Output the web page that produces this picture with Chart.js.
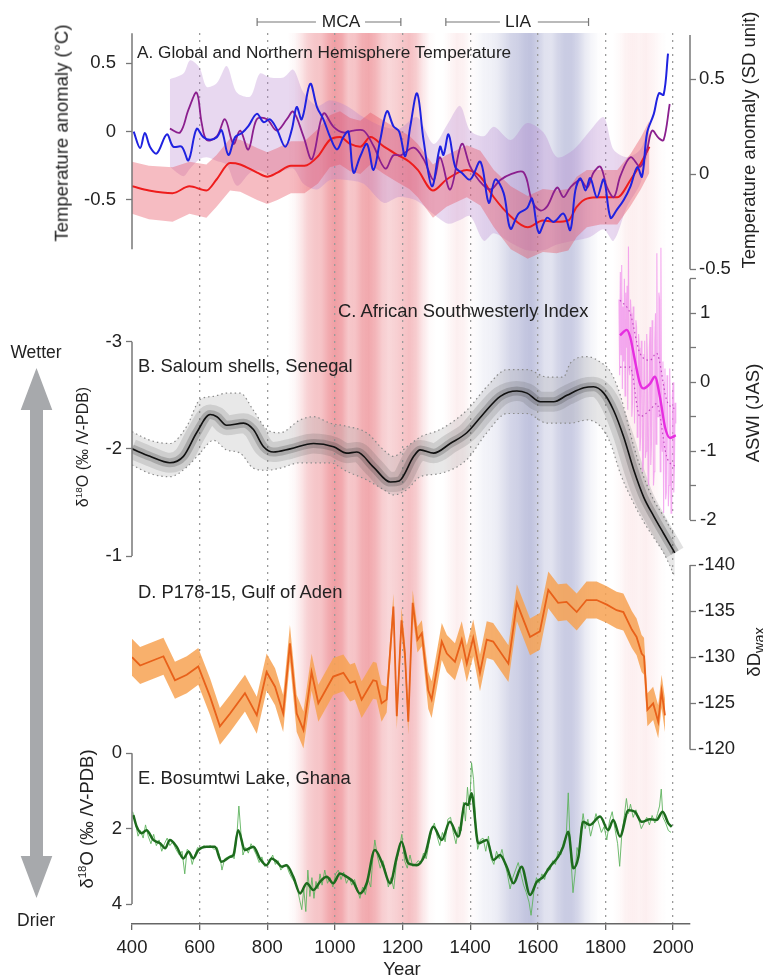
<!DOCTYPE html>
<html>
<head>
<meta charset="utf-8">
<script src="https://cdn.jsdelivr.net/npm/chart.js"></script>
<style>
  html, body { margin: 0; padding: 0; background: #fff; }
  #wrap { position: relative; width: 763px; height: 978px; overflow: hidden;
          font-family: "Liberation Sans", Arial, Helvetica, sans-serif; color: #222; }
  #fig { position: absolute; left: 0; top: 0; }
  #arrow { position: absolute; left: 0; top: 0; }
  .t { position: absolute; white-space: nowrap; line-height: 1; transform: translateY(-50%); }
  .c { position: absolute; white-space: nowrap; line-height: 1; transform: translate(-50%, -50%); }
  .v { position: absolute; white-space: nowrap; line-height: 1; transform: translate(-50%, -50%) rotate(-90deg); }
  sup { font-size: 62%; line-height: 0; }
  sub { font-size: 78%; line-height: 0; }
</style>
</head>
<body>
<div id="wrap">
  <svg id="arrow" width="763" height="978">
    <polygon fill="#a7a9ac" points="36.5,368 52.3,410 43,410 43,856 52.3,856 36.5,898 20.7,856 30,856 30,410 20.7,410"/>
  </svg>
  <canvas id="fig" width="763" height="978"></canvas>

  <div class="c" style="left:341px;top:22px;font-size:17.3px">MCA</div>
  <div class="c" style="left:518px;top:22px;font-size:17.3px">LIA</div>

  <div class="t" style="left:137px;top:53px;font-size:17.2px">A. Global and Northern Hemisphere Temperature</div>
  <div class="t" style="left:338px;top:311px;font-size:18.4px">C. African Southwesterly Index</div>
  <div class="t" style="left:138px;top:366px;font-size:18.4px">B. Saloum shells, Senegal</div>
  <div class="t" style="left:138px;top:592px;font-size:18.4px">D. P178-15, Gulf of Aden</div>
  <div class="t" style="left:138px;top:778px;font-size:18.4px">E. Bosumtwi Lake, Ghana</div>

  <div class="v" style="left:62px;top:133px;font-size:18.5px">Temperature anomaly (°C)</div>
  <div class="v" style="left:749px;top:140px;font-size:18.5px">Temperature anomaly (SD unit)</div>
  <div class="v" style="left:753px;top:413px;font-size:18.5px">ASWI (JAS)</div>
  <div class="v" style="left:83px;top:447px;font-size:16px">δ<sup>18</sup>O (‰ /V-PDB)</div>
  <div class="v" style="left:754px;top:652px;font-size:18.5px">δD<sub>wax</sub></div>
  <div class="v" style="left:87px;top:819px;font-size:18.5px">δ<sup>18</sup>O (‰ /V-PDB)</div>

  <div class="c" style="left:36px;top:353px;font-size:17.5px">Wetter</div>
  <div class="c" style="left:36px;top:921px;font-size:17.5px">Drier</div>
  <div class="c" style="left:402px;top:969px;font-size:18.5px">Year</div>
</div>

<script>
// ---- data ----
var yearTicks = [400, 600, 800, 1000, 1200, 1400, 1600, 1800, 2000];

// A. temperature (red = NH reconstruction with band, blue = global, purple = SD units)
var redYears = [400, 450, 520, 570, 620, 650, 690, 720, 770, 800,
                830, 870, 910, 950, 985, 1015, 1045, 1075, 1105, 1145,
                1185, 1220, 1245, 1290, 1330, 1390, 1430, 1470, 1520, 1570,
                1615, 1655, 1690, 1715, 1745, 1785, 1835, 1875, 1905, 1930];
var redVals = [-0.40, -0.43, -0.45, -0.40, -0.43, -0.35, -0.23, -0.24, -0.30, -0.33,
               -0.30, -0.25, -0.25, -0.18, -0.06, -0.04, -0.09, -0.11, -0.04, -0.11,
               -0.17, -0.22, -0.28, -0.43, -0.35, -0.28, -0.33, -0.48, -0.62, -0.70,
               -0.65, -0.66, -0.65, -0.55, -0.49, -0.48, -0.48, -0.35, -0.23, -0.11];
var redHi = [-0.22, -0.25, -0.26, -0.22, -0.24, -0.17, -0.05, -0.06, -0.12, -0.15,
             -0.12, -0.07, -0.07, 0.02, 0.12, 0.15, 0.10, 0.08, 0.14, 0.08,
             0.02, -0.03, -0.09, -0.24, -0.17, -0.10, -0.14, -0.28, -0.40, -0.47,
             -0.42, -0.43, -0.42, -0.33, -0.28, -0.28, -0.28, -0.16, -0.04, 0.08];
var redLo = [-0.60, -0.64, -0.66, -0.60, -0.63, -0.55, -0.43, -0.44, -0.50, -0.53,
             -0.50, -0.45, -0.45, -0.38, -0.26, -0.24, -0.29, -0.31, -0.24, -0.31,
             -0.37, -0.42, -0.48, -0.63, -0.55, -0.48, -0.54, -0.70, -0.86, -0.93,
             -0.88, -0.89, -0.87, -0.77, -0.70, -0.68, -0.68, -0.54, -0.42, -0.30];

var blueYears = [405, 424, 438, 453, 473, 503, 522, 547, 567, 591,
                 611, 631, 651, 665, 685, 705, 725, 744, 769, 789,
                 808, 828, 853, 873, 887, 902, 927, 947, 966, 986,
                 1006, 1025, 1040, 1055, 1075, 1095, 1114, 1134, 1154, 1173,
                 1190, 1208, 1223, 1243, 1262, 1287, 1311, 1321, 1336, 1356,
                 1375, 1400, 1430, 1455, 1474, 1499, 1519, 1543, 1568, 1583,
                 1603, 1627, 1647, 1676, 1696, 1711, 1726, 1741, 1755, 1775,
                 1795, 1815, 1834, 1854, 1874, 1894, 1908, 1923, 1943, 1958,
                 1972, 1985];
var blueVals = [0.00, -0.12, -0.01, -0.11, -0.16, -0.02, -0.11, -0.11, -0.21, 0.02,
                -0.04, -0.06, -0.04, 0.01, -0.17, -0.04, -0.01, 0.04, 0.13, 0.07,
                0.09, 0.02, -0.11, 0.02, 0.18, 0.09, 0.35, 0.18, 0.09, -0.04,
                -0.13, -0.04, 0.00, -0.30, -0.18, -0.09, -0.28, -0.06, 0.15, 0.04,
                0.00, -0.18, 0.04, 0.28, -0.06, -0.40, -0.11, -0.17, -0.02, -0.26,
                -0.30, -0.35, -0.22, -0.52, -0.35, -0.45, -0.71, -0.60, -0.56, -0.49,
                -0.74, -0.63, -0.66, -0.60, -0.72, -0.43, -0.34, -0.43, -0.34, -0.48,
                -0.35, -0.63, -0.57, -0.50, -0.40, -0.26, -0.33, -0.01, 0.13, 0.28,
                0.27, 0.57];

var purpleYears = [512, 542, 567, 591, 606, 621, 651, 675, 700, 720,
                   744, 769, 799, 828, 858, 877, 907, 932, 966, 996,
                   1025, 1055, 1085, 1114, 1149, 1173, 1195, 1233, 1262, 1292,
                   1311, 1341, 1375, 1400, 1425, 1459, 1489, 1519, 1558, 1583,
                   1607, 1627, 1657, 1676, 1696, 1726, 1746, 1765, 1785, 1805,
                   1825, 1844, 1874, 1903, 1923, 1938, 1958, 1972, 1990];
var purpleVals = [0.24, 0.22, 0.34, 0.43, 0.27, 0.18, 0.20, 0.29, 0.16, 0.23,
                  0.13, 0.29, 0.29, 0.23, 0.29, 0.33, 0.20, 0.08, 0.32, 0.25,
                  0.22, 0.23, 0.23, 0.15, 0.03, 0.10, 0.10, 0.14, 0.08, -0.03,
                  0.09, -0.08, 0.16, 0.04, -0.03, -0.08, -0.03, 0.00, 0.01, -0.14,
                  -0.19, -0.17, -0.07, -0.12, -0.07, -0.03, -0.07, 0.01, 0.04, -0.07,
                  -0.12, -0.01, 0.09, 0.04, 0.13, 0.23, 0.19, 0.18, 0.37];
var purpleBandYears = [512, 552, 572, 600, 621, 651, 680, 710, 750, 778,
                       808, 848, 877, 907, 947, 986, 1035, 1085, 1144, 1190,
                       1243, 1292, 1335, 1370, 1400, 1440, 1470, 1520, 1568, 1617,
                       1657, 1706, 1755, 1795, 1824, 1864, 1903, 1925];
var purpleHi = [0.50, 0.53, 0.60, 0.56, 0.46, 0.48, 0.57, 0.43, 0.41, 0.53,
                0.51, 0.51, 0.55, 0.43, 0.36, 0.39, 0.36, 0.30, 0.25, 0.24,
                0.30, 0.16, 0.27, 0.36, 0.23, 0.20, 0.25, 0.18, 0.27, 0.22,
                0.09, 0.13, 0.23, 0.30, 0.13, 0.09, 0.13, 0.24];
var purpleLo = [0.04, -0.01, 0.03, 0.08, 0.09, 0.07, 0.05, -0.06, 0.01, 0.02,
                0.00, 0.02, 0.03, -0.05, -0.08, -0.03, -0.03, -0.05, -0.15, -0.12,
                -0.14, -0.21, -0.26, -0.24, -0.22, -0.35, -0.31, -0.36, -0.40, -0.40,
                -0.37, -0.35, -0.33, -0.29, -0.35, -0.17, -0.05, 0.10];

// B. Saloum shells d18O
var saloumYears = [400, 453, 512, 552, 591, 631, 651, 680, 730, 759,
                   789, 818, 868, 937, 996, 1035, 1065, 1114, 1164, 1190,
                   1233, 1252, 1292, 1341, 1390, 1440, 1489, 1538, 1568, 1607,
                   1647, 1686, 1736, 1765, 1795, 1824, 1854, 1884, 1913, 1943,
                   1972, 2005];
var saloumVals = [-2.00, -1.93, -1.87, -1.93, -2.15, -2.32, -2.30, -2.22, -2.24, -2.18,
                  -2.02, -1.97, -2.00, -2.05, -2.02, -1.96, -1.97, -1.83, -1.69, -1.70,
                  -1.93, -1.99, -1.96, -2.05, -2.15, -2.33, -2.49, -2.54, -2.52, -2.44,
                  -2.44, -2.50, -2.57, -2.58, -2.52, -2.36, -2.11, -1.80, -1.55, -1.37,
                  -1.21, -1.03];
var saloumBandYears = [400, 453, 512, 562, 601, 641, 680, 720, 759, 799,
                       838, 897, 937, 986, 1035, 1094, 1144, 1173, 1213, 1252,
                       1311, 1390, 1449, 1509, 1568, 1627, 1676, 1696, 1746, 1785,
                       1815, 1844, 1884, 1913, 1943, 1972, 2005];
var saloumHi = [-2.16, -2.08, -2.05, -2.21, -2.46, -2.49, -2.52, -2.52, -2.36, -2.18,
                -2.15, -2.27, -2.30, -2.24, -2.21, -2.15, -1.99, -1.93, -2.02, -2.11,
                -2.18, -2.36, -2.58, -2.74, -2.74, -2.67, -2.67, -2.80, -2.86, -2.81,
                -2.72, -2.50, -2.02, -1.74, -1.52, -1.37, -1.18];
var saloumLo = [-1.85, -1.77, -1.74, -1.83, -1.96, -2.08, -1.99, -1.96, -1.82, -1.80,
                -1.82, -1.87, -1.87, -1.87, -1.79, -1.71, -1.62, -1.57, -1.62, -1.74,
                -1.77, -1.90, -2.15, -2.33, -2.33, -2.24, -2.24, -2.24, -2.27, -2.21,
                -2.05, -1.77, -1.49, -1.32, -1.17, -1.03, -0.81];

// C. African Southwesterly Index
var aswiYears = [1843, 1863, 1873, 1887, 1902, 1912, 1932, 1946, 1961, 1976, 1991, 2008];
var aswiVals = [0.68, 0.76, 0.66, 0.32, -0.02, -0.09, -0.02, 0.08, -0.21, -0.65, -0.81, -0.77];
var aswiBandYears = [1843, 1873, 1902, 1932, 1951, 1981, 2008];
var aswiHi = [1.19, 1.00, 0.42, 0.32, 0.42, -0.26, -0.40];
var aswiLo = [0.22, 0.22, -0.50, -0.40, -0.31, -1.08, -1.23];
var aswiAnnualYears = [1840, 1842, 1844, 1846, 1848, 1850, 1852, 1854, 1856, 1858,
                       1860, 1862, 1864, 1866, 1868, 1870, 1872, 1874, 1876, 1878,
                       1880, 1882, 1884, 1886, 1888, 1890, 1892, 1894, 1896, 1898,
                       1900, 1902, 1904, 1906, 1908, 1910, 1912, 1914, 1916, 1918,
                       1920, 1922, 1924, 1926, 1928, 1930, 1932, 1934, 1936, 1938,
                       1940, 1942, 1944, 1946, 1948, 1950, 1952, 1954, 1956, 1958,
                       1960, 1962, 1964, 1966, 1968, 1970, 1972, 1974, 1976, 1978,
                       1980, 1982, 1984, 1986, 1988, 1990, 1992, 1994, 1996, 1998,
                       2000, 2002, 2004, 2006, 2008];
var aswiAnnual = [1.2, 0.1, 1.6, 0.4, 1.7, -0.1, 1.1, 0.3, 1.5, -0.2,
                  1.3, 0.5, 1.4, -0.4, 1.97, 0.2, 0.1, 1.2, 1.0, -0.5,
                  -0.3, 1.1, 0.9, -0.6, 0.2, 0.9, 0.8, -0.8, -0.6, 0.7,
                  0.5, -1.0, -0.8, 0.6, 0.3, -1.3, -1.2, 0.4, 0.6, -1.1,
                  -1.0, 0.7, 0.4, -1.4, -1.5, 0.5, 0.8, -1.2, -0.9, 0.9,
                  0.5, -1.5, -1.3, 0.6, 1.0, -0.9, 1.87, -0.5, -0.5, 1.3,
                  1.2, -1.3, 1.95, -0.8, -1.0, 0.3, -1.9, 0.0, 0.2, -1.7,
                  -1.6, 0.1, -0.3, -1.8, -1.5, 0.2, -0.6, -1.9, -1.8, -0.2,
                  0.0, -1.6, -1.2, -0.3, -0.6];

// D. P178-15 dDwax
var dYears = [400, 424, 493, 527, 562, 596, 631, 660, 690, 734,
              769, 798, 823, 847, 867, 887, 907, 931, 951, 995,
              1025, 1045, 1059, 1079, 1113, 1123, 1138, 1153, 1173, 1183,
              1197, 1207, 1217, 1230, 1244, 1257, 1276, 1286, 1316, 1331,
              1355, 1375, 1390, 1409, 1429, 1449, 1468, 1513, 1538, 1577,
              1606, 1631, 1660, 1685, 1715, 1744, 1774, 1804, 1833, 1853,
              1878, 1892, 1907, 1914, 1924, 1941, 1956, 1966, 1976];
var dVals = [-130.0, -129.1, -130.1, -127.5, -128.1, -129.0, -125.7, -122.5, -123.9, -126.1,
             -123.7, -128.4, -126.8, -123.9, -131.5, -123.9, -122.1, -128.4, -125.0, -127.9,
             -128.3, -127.2, -127.4, -125.4, -127.5, -127.4, -125.0, -125.4, -135.5, -123.6,
             -134.0, -130.4, -123.0, -135.9, -131.9, -132.6, -126.4, -125.4, -131.7, -130.4,
             -129.5, -131.9, -129.3, -132.1, -128.3, -131.9, -131.7, -129.3, -135.9, -132.2,
             -132.8, -137.3, -135.9, -136.0, -134.9, -136.2, -136.2, -135.7, -135.1, -134.9,
             -133.0, -132.2, -130.4, -130.1, -124.3, -125.0, -123.0, -126.3, -123.7];
var dHi = [-132.0, -131.1, -132.1, -129.5, -130.1, -131.0, -127.7, -124.5, -125.9, -128.1,
           -125.7, -130.4, -128.8, -125.9, -133.5, -125.9, -124.1, -130.4, -127.0, -129.9,
           -130.3, -129.2, -129.4, -127.4, -129.5, -129.4, -127.0, -126.8, -136.9, -125.0,
           -135.4, -131.8, -124.4, -137.3, -133.3, -134.0, -128.4, -127.4, -133.7, -132.4,
           -131.5, -133.9, -131.3, -134.1, -130.3, -133.9, -133.7, -131.3, -137.9, -134.2,
           -134.8, -139.3, -137.9, -138.0, -136.9, -138.2, -138.2, -137.7, -137.1, -136.9,
           -135.0, -134.2, -132.4, -132.1, -126.1, -126.8, -124.8, -128.1, -125.5];
var dLo = [-128.0, -127.1, -128.1, -125.5, -126.1, -127.0, -123.7, -120.5, -121.9, -124.1,
           -121.7, -126.4, -124.8, -121.9, -129.5, -121.9, -120.1, -126.4, -123.0, -125.9,
           -126.3, -125.2, -125.4, -123.4, -125.5, -125.4, -123.0, -124.0, -134.1, -122.2,
           -132.6, -129.0, -121.6, -134.5, -130.5, -131.2, -124.4, -123.4, -129.7, -128.4,
           -127.5, -129.9, -127.3, -130.1, -126.3, -129.9, -129.7, -127.3, -133.9, -130.2,
           -130.8, -135.3, -133.9, -134.0, -132.9, -134.2, -134.2, -133.7, -133.1, -132.9,
           -131.0, -130.2, -128.4, -128.1, -122.5, -123.2, -121.2, -124.5, -121.9];

// E. Bosumtwi Lake d18O (smoothed + raw)
var bosYears = [404, 414, 429, 443, 463, 483, 498, 512, 532, 552,
                567, 581, 596, 621, 645, 665, 690, 700, 714, 734,
                759, 778, 798, 813, 828, 843, 857, 877, 897, 917,
                936, 956, 976, 995, 1015, 1035, 1054, 1074, 1094, 1118,
                1140, 1163, 1183, 1197, 1217, 1242, 1266, 1291, 1316, 1340,
                1365, 1385, 1394, 1404, 1424, 1449, 1469, 1488, 1508, 1528,
                1552, 1577, 1597, 1616, 1636, 1660, 1675, 1690, 1705, 1720,
                1734, 1754, 1784, 1808, 1823, 1843, 1868, 1887, 1907, 1932,
                1951, 1969, 1986, 1996];
var bosVals = [1.64, 1.95, 2.12, 2.04, 2.30, 2.39, 2.52, 2.30, 2.48, 2.79,
               2.61, 2.79, 2.57, 2.48, 2.48, 2.88, 2.75, 2.70, 2.04, 2.57,
               2.48, 2.79, 2.97, 2.79, 2.88, 3.01, 2.97, 3.28, 3.72, 3.45,
               3.63, 3.41, 3.28, 3.45, 3.19, 3.28, 3.41, 3.72, 3.45, 2.57,
               2.92, 3.45, 2.75, 2.35, 2.92, 2.97, 2.70, 1.95, 2.30, 1.82,
               2.21, 1.33, 1.37, 1.06, 2.39, 2.30, 2.83, 2.70, 3.01, 3.45,
               3.01, 3.76, 3.41, 3.28, 3.01, 2.75, 2.48, 2.08, 3.05, 2.75,
               1.82, 1.90, 1.68, 2.04, 1.77, 2.21, 1.51, 1.55, 1.82, 1.75,
               1.77, 1.55, 1.86, 1.95];
var bosRawYears = [402, 410, 418, 425, 433, 440, 448, 456, 464, 472,
                   480, 488, 496, 504, 512, 520, 530, 540, 548, 556,
                   563, 570, 578, 586, 594, 602, 612, 622, 632, 642,
                   652, 660, 666, 674, 684, 694, 702, 710, 716, 722,
                   728, 736, 744, 752, 760, 768, 776, 784, 792, 800,
                   808, 816, 824, 832, 840, 848, 856, 864, 872, 880,
                   888, 896, 902, 908, 914, 920, 926, 932, 938, 944,
                   950, 956, 962, 970, 978, 986, 994, 1002, 1010, 1018,
                   1026, 1034, 1042, 1050, 1058, 1066, 1074, 1082, 1090, 1098,
                   1106, 1112, 1118, 1126, 1134, 1142, 1150, 1158, 1166, 1174,
                   1182, 1190, 1198, 1206, 1214, 1222, 1230, 1238, 1246, 1254,
                   1262, 1270, 1278, 1286, 1294, 1302, 1310, 1318, 1326, 1334,
                   1342, 1350, 1358, 1366, 1374, 1380, 1386, 1392, 1398, 1404,
                   1410, 1416, 1422, 1430, 1438, 1446, 1454, 1462, 1470, 1478,
                   1486, 1494, 1502, 1510, 1518, 1526, 1534, 1542, 1550, 1558,
                   1566, 1574, 1580, 1588, 1596, 1604, 1612, 1620, 1628, 1636,
                   1644, 1652, 1660, 1668, 1676, 1684, 1690, 1696, 1704, 1710,
                   1716, 1722, 1728, 1734, 1740, 1748, 1756, 1764, 1772, 1780,
                   1788, 1796, 1804, 1812, 1820, 1828, 1836, 1842, 1848, 1856,
                   1862, 1868, 1874, 1882, 1890, 1898, 1906, 1914, 1922, 1930,
                   1938, 1946, 1954, 1960, 1965, 1970, 1978, 1986, 1994];
var bosRaw = [1.55, 1.85, 2.20, 2.05, 2.25, 1.90, 2.20, 2.40, 2.15, 2.45,
              2.30, 2.60, 2.40, 2.25, 2.45, 2.35, 2.55, 2.70, 2.60, 3.20,
              2.55, 2.60, 2.95, 2.70, 2.50, 2.55, 2.45, 2.50, 2.45, 2.55,
              2.50, 2.75, 3.10, 2.80, 2.75, 2.70, 2.80, 2.20, 1.40, 2.10,
              2.70, 2.50, 2.65, 2.40, 2.55, 2.70, 2.90, 2.75, 3.00, 2.95,
              2.85, 2.70, 2.95, 2.85, 3.10, 3.00, 2.95, 3.15, 3.30, 3.40,
              3.55, 3.90, 4.15, 3.60, 4.20, 3.10, 3.80, 3.30, 3.85, 3.40,
              3.60, 3.20, 3.50, 3.10, 3.45, 3.30, 3.55, 3.20, 3.10, 3.35,
              3.15, 3.45, 3.30, 3.50, 3.35, 3.60, 3.85, 3.55, 3.75, 3.35,
              3.55, 2.80, 2.30, 2.75, 3.05, 2.85, 3.15, 3.55, 3.30, 3.60,
              2.90, 2.55, 2.15, 2.85, 3.05, 2.70, 3.00, 2.95, 2.85, 2.90,
              2.65, 2.80, 2.40, 2.05, 1.85, 2.20, 2.45, 2.10, 2.35, 1.75,
              1.70, 2.10, 2.40, 1.95, 2.05, 1.30, 1.80, 0.90, 1.50, 0.25,
              0.70, 1.80, 2.55, 2.30, 2.25, 2.60, 2.20, 2.80, 2.95, 2.60,
              2.80, 2.55, 2.90, 3.20, 3.60, 3.30, 3.10, 2.90, 3.20, 3.50,
              3.70, 3.95, 4.30, 3.70, 3.30, 3.45, 3.20, 3.35, 3.05, 3.10,
              2.85, 2.95, 2.60, 2.70, 2.35, 2.20, 1.05, 2.50, 3.70, 3.20,
              2.50, 2.70, 2.00, 1.60, 2.00, 1.75, 2.20, 1.90, 1.60, 1.85,
              2.10, 1.95, 2.30, 1.80, 1.55, 2.00, 2.40, 3.00, 2.20, 1.65,
              1.20, 1.60, 1.35, 1.70, 1.50, 1.75, 2.00, 1.85, 1.70, 1.90,
              1.65, 1.85, 1.60, 1.40, 0.95, 1.70, 1.85, 2.05, 2.10];

// background shading: + warm (red), - cold (blue)
var shadeYears = [860, 880, 900, 920, 940, 960, 980, 1000, 1020, 1040,
                  1060, 1080, 1100, 1120, 1140, 1160, 1180, 1200, 1220, 1240,
                  1260, 1280, 1300, 1320, 1340, 1360, 1380, 1400, 1420, 1440,
                  1460, 1480, 1500, 1520, 1540, 1560, 1580, 1600, 1620, 1640,
                  1660, 1680, 1700, 1720, 1740, 1760, 1780, 1800, 1820, 1840,
                  1860, 1880, 1900, 1920, 1940, 1960, 1980];
var shadeLevel = [0, 0.05, 0.18, 0.35, 0.42, 0.45, 0.62, 0.72, 0.65, 0.42,
                  0.45, 0.60, 0.65, 0.55, 0.38, 0.30, 0.35, 0.42, 0.48, 0.38,
                  0.18, 0.04, 0, 0, 0.06, 0.12, 0.10, 0.02, -0.05, -0.12,
                  -0.15, -0.20, -0.32, -0.45, -0.50, -0.60, -0.65, -0.50, -0.32, -0.30,
                  -0.45, -0.55, -0.55, -0.42, -0.22, -0.10, -0.02, 0, 0, 0.03,
                  0.10, 0.12, 0.10, 0.12, 0.08, 0.03, 0];

// MCA / LIA brackets (years)
var brackets = [
  {from: 770, to: 1195, gapFrom: 944, gapTo: 1089},
  {from: 1328, to: 1750, gapFrom: 1488, gapTo: 1600}
];

// tick values for each panel axis
var ticksA = [-0.5, 0, 0.5];
var ticksA2 = [-0.5, 0, 0.5];
var ticksB = [-3, -2, -1];
var ticksC = [-2, -1.5, -1, -0.5, 0, 0.5, 1, 1.5];
var ticksD = [-140, -135, -130, -125, -120];
var ticksE = [0, 2, 4];

// ---- layout ----
var TOP = 33, BOTTOM = 924;   // chart area, px

// each axis: two reference values and where they sit, plus the extent of its spine
var axes = {
  yA:  {pos: 'left',  ref: [0.5, 63.3, -0.5, 200],    ticks: ticksA,  spine: [0.72, -0.86], pad: 10},
  yA2: {pos: 'right', ref: [0.5, 79.3, -0.5, 269.3],  ticks: ticksA2, spine: [0.733, -0.5], pad: 3},
  yB:  {pos: 'left',  ref: [-3, 341.7, -1, 556],      ticks: ticksB,  spine: [-3, -1], pad: 4},
  yC:  {pos: 'right', ref: [1, 313.3, -2, 520],       ticks: ticksC,  spine: [1.5, -2], pad: 4,
        label: function (v) { return Number.isInteger(v) ? String(v) : ''; }},
  yD:  {pos: 'right', ref: [-140, 565, -125, 703.3],  ticks: ticksD,  spine: [-140, -120], pad: 2},
  yE:  {pos: 'left',  ref: [0, 753.3, 4, 904],        ticks: ticksE,  spine: [0, 4], pad: 4}
};

function fitAxis(r) {
  var s = (r[2] - r[0]) / (r[3] - r[1]);
  var top = r[0] + s * (TOP - r[1]);
  var bot = r[0] + s * (BOTTOM - r[1]);
  return top > bot ? {min: bot, max: top, reverse: false} : {min: top, max: bot, reverse: true};
}

function pts(xs, ys) {
  return xs.map(function (x, i) { return {x: x, y: ys[i]}; });
}

Chart.defaults.font.family = '"Liberation Sans", Arial, Helvetica, sans-serif';
Chart.defaults.font.size = 18.5;
Chart.defaults.color = '#333';

var scales = {
  x: {
    type: 'linear', position: 'bottom', min: 400, max: 2050, bounds: 'data',
    afterFit: function (s) { s.height = 0; },
    afterBuildTicks: function (s) { s.ticks = yearTicks.map(function (v) { return {value: v}; }); },
    ticks: {callback: function (v) { return String(v); }, padding: 7, maxRotation: 0, autoSkip: false, color: '#222'},
    grid: {
      color: function (c) { return c.tick && c.tick.value === 400 ? 'rgba(0,0,0,0)' : '#9a9a9a'; },
      lineWidth: 1.3, tickLength: 6, tickColor: '#666', tickWidth: 1.3, tickBorderDash: []
    },
    border: {display: true, color: '#666', width: 1.5, dash: [2, 5]}
  }
};

Object.keys(axes).forEach(function (id) {
  var a = axes[id];
  var r = fitAxis(a.ref);
  scales[id] = {
    type: 'linear', position: a.pos, min: r.min, max: r.max, reverse: r.reverse, bounds: 'data',
    afterFit: function (s) { s.width = 0; },
    afterBuildTicks: function (s) { s.ticks = a.ticks.map(function (v) { return {value: v}; }); },
    ticks: {callback: a.label || function (v) { return String(v); }, padding: a.pad, autoSkip: false, color: '#222'},
    grid: {drawOnChartArea: false, drawTicks: true, tickLength: 6, tickColor: '#777', tickWidth: 1.3},
    border: {display: false}
  };
});

// datasets (lower "order" is drawn on top)
var base = {pointRadius: 0, borderWidth: 1.5, fill: false, xAxisID: 'x'};
function ds(xs, ys, axis, extra) {
  return Object.assign({}, base, {data: pts(xs, ys), yAxisID: axis}, extra);
}
var smooth = {cubicInterpolationMode: 'monotone'};
var dotted = {borderColor: '#8a8a8a', borderWidth: 1.2, borderDash: [1.5, 3]};

var datasets = [
  // A
  ds(redYears, redHi, 'yA', {fill: '+1', backgroundColor: 'rgba(232,80,95,0.38)', borderWidth: 0, order: 20}),
  ds(redYears, redLo, 'yA', {borderWidth: 0, order: 20}),
  ds(purpleBandYears, purpleHi, 'yA2', {fill: '+1', backgroundColor: 'rgba(180,125,205,0.3)', borderWidth: 0, order: 21, tension: 0.3}),
  ds(purpleBandYears, purpleLo, 'yA2', {borderWidth: 0, order: 21, tension: 0.3}),
  ds(redYears, redVals, 'yA', Object.assign({borderColor: '#ee1c1c', borderWidth: 2, order: 6}, smooth)),
  ds(purpleYears, purpleVals, 'yA2', {borderColor: '#8b1f8e', borderWidth: 1.8, order: 5, tension: 0.35}),
  ds(blueYears, blueVals, 'yA', {borderColor: '#1f22e0', borderWidth: 2, order: 4, tension: 0.35}),
  // B
  ds(saloumBandYears, saloumHi, 'yB', Object.assign({fill: '+1', backgroundColor: 'rgba(165,165,165,0.26)', order: 20}, dotted, smooth)),
  ds(saloumBandYears, saloumLo, 'yB', Object.assign({order: 20}, dotted, smooth)),
  ds(saloumYears, saloumVals, 'yB', Object.assign({borderColor: 'rgba(70,70,70,0.16)', borderWidth: 20, order: 12}, smooth)),
  ds(saloumYears, saloumVals, 'yB', Object.assign({borderColor: 'rgba(40,40,40,0.22)', borderWidth: 9, order: 11}, smooth)),
  ds(saloumYears, saloumVals, 'yB', Object.assign({borderColor: '#111', borderWidth: 1.6, order: 2}, smooth)),
  // C
  ds(aswiAnnualYears, aswiAnnual, 'yC', {borderColor: 'rgba(240,135,235,0.7)', borderWidth: 1.1, order: 9}),
  ds(aswiBandYears, aswiHi, 'yC', Object.assign({order: 8}, dotted, smooth, {borderColor: '#c24ac2'})),
  ds(aswiBandYears, aswiLo, 'yC', Object.assign({order: 8}, dotted, smooth, {borderColor: '#c24ac2'})),
  ds(aswiYears, aswiVals, 'yC', Object.assign({borderColor: '#e62ee0', borderWidth: 2.4, order: 2}, smooth)),
  // D
  ds(dYears, dHi, 'yD', {fill: '+1', backgroundColor: 'rgba(247,162,82,0.85)', borderWidth: 0, order: 20}),
  ds(dYears, dLo, 'yD', {borderWidth: 0, order: 20}),
  ds(dYears, dVals, 'yD', {borderColor: '#e8611a', borderWidth: 1.8, order: 3}),
  // E
  ds(bosRawYears, bosRaw, 'yE', {borderColor: 'rgba(95,180,95,0.9)', borderWidth: 1, order: 4}),
  ds(bosYears, bosVals, 'yE', Object.assign({borderColor: '#1d6b1d', borderWidth: 2.5, order: 2}, smooth))
];

// the axes take no room in the layout; widen their boxes afterwards so labels are not clipped
var labelRoom = {
  id: 'labelRoom',
  afterLayout: function (chart) {
    Object.keys(chart.scales).forEach(function (id) {
      var s = chart.scales[id];
      if (s.position === 'left') s.left = 0;
      else if (s.position === 'right') s.right = chart.width;
      else if (s.position === 'bottom') s.bottom = chart.height;
    });
  }
};

// warm / cold period shading behind everything
var shading = {
  id: 'shading',
  beforeDraw: function (chart) {
    var ctx = chart.ctx, a = chart.chartArea, x = chart.scales.x;
    var x0 = a.left, x1 = a.right;
    var g = ctx.createLinearGradient(x0, 0, x1, 0);
    shadeYears.forEach(function (yr, i) {
      var v = shadeLevel[i];
      var t = (x.getPixelForValue(yr) - x0) / (x1 - x0);
      var col = v >= 0 ? 'rgba(226,70,80,' + (v * 0.72) + ')' : 'rgba(112,118,180,' + (-v * 0.68) + ')';
      g.addColorStop(Math.min(1, Math.max(0, t)), col);
    });
    ctx.save();
    ctx.fillStyle = g;
    ctx.fillRect(a.left, a.top, a.right - a.left, a.bottom - a.top);
    ctx.restore();
  }
};

// axis spines only over each panel's own range, plus MCA / LIA brackets
var spines = {
  id: 'spines',
  afterDraw: function (chart) {
    var ctx = chart.ctx, x = chart.scales.x;
    ctx.save();
    ctx.strokeStyle = '#777';
    ctx.lineWidth = 1.5;
    Object.keys(axes).forEach(function (id) {
      var s = chart.scales[id], a = axes[id];
      var px = a.pos === 'left' ? s.right : s.left;
      ctx.beginPath();
      ctx.moveTo(px, s.getPixelForValue(a.spine[0]));
      ctx.lineTo(px, s.getPixelForValue(a.spine[1]));
      ctx.stroke();
    });
    ctx.lineWidth = 1.2;
    var y = 22;
    brackets.forEach(function (b) {
      var p0 = x.getPixelForValue(b.from), p1 = x.getPixelForValue(b.to);
      var g0 = x.getPixelForValue(b.gapFrom), g1 = x.getPixelForValue(b.gapTo);
      ctx.beginPath();
      ctx.moveTo(p0, y); ctx.lineTo(g0, y);
      ctx.moveTo(g1, y); ctx.lineTo(p1, y);
      ctx.moveTo(p0, y - 4); ctx.lineTo(p0, y + 4);
      ctx.moveTo(p1, y - 4); ctx.lineTo(p1, y + 4);
      ctx.stroke();
    });
    ctx.restore();
  }
};

var chart = new Chart(document.getElementById('fig'), {
  type: 'line',
  data: {datasets: datasets},
  options: {
    responsive: false,
    animation: false,
    events: [],
    layout: {padding: {top: TOP, bottom: 978 - BOTTOM, left: 132, right: 73}},
    plugins: {legend: {display: false}, tooltip: {enabled: false}},
    scales: scales
  },
  plugins: [labelRoom, shading, spines]
});
</script>
</body>
</html>
